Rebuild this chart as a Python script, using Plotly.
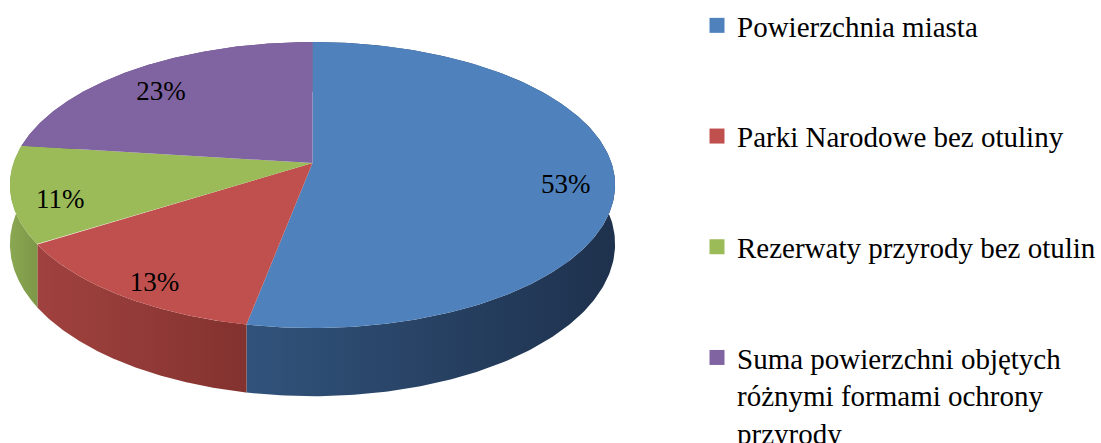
import numpy as np
import plotly.graph_objects as go

# -- Data --
categories = [
    "Powierzchnia miasta",
    "Parki Narodowe bez otuliny",
    "Rezerwaty przyrody bez otulin",
    "Suma powierzchni objętych<br>różnymi formami ochrony<br>przyrody",
]
shares = [53, 13, 11, 23]

# -- Style --
TOP_COLORS = ["#4F81BD", "#C0504D", "#9BBB59", "#8064A2"]
SIDE_COLORS = [
    ("#31537b", "#1e314d"),
    ("#a0423f", "#83322f"),
    ("#8aa752", "#7d9848"),
    ("#6b5189", "#5a4474"),
]
FONT = "Liberation Serif, Times New Roman, serif"

W, H = 1101, 443

# 3D pie projection (screen pixels, y grows downward)
CX, CY = 312.5, 163.0     # pie centre on the top face
A, B = 299.0, 139.6       # horizontal / vertical radius of the top face
PERSP = 0.154             # far side shrinks, near side grows
DEPTH = 57.7              # thickness of the pie
LABEL_R = 0.84            # labels sit at this radius ...
LABEL_Z = 0.2             # ... and slightly into the slab


def project(theta_deg, r=1.0, z=0.0):
    # theta clockwise from 12 o'clock, z=0 top face, z=1 bottom face
    t = np.radians(theta_deg)
    X = r * np.sin(t)
    Y = r * np.cos(t)
    k = 1.0 / (1.0 + PERSP * Y)
    return CX + A * X * k, CY - B * Y * k + z * DEPTH * k


total = float(sum(shares))
bounds = np.concatenate([[0.0], np.cumsum(shares) / total * 360.0])

fig = go.Figure()

# -- Layer 1: pie sides (drawn first, the top face covers the hidden part) --
for i, (t0, t1) in enumerate(zip(bounds[:-1], bounds[1:])):
    th = np.linspace(t0, t1, 240)
    xt, yt = project(th, z=0.0)
    xb, yb = project(th[::-1], z=1.0)
    light, dark = SIDE_COLORS[i]
    fig.add_trace(go.Scatter(
        x=np.concatenate([xt, xb]),
        y=np.concatenate([yt, yb]),
        mode="lines",
        fill="toself",
        fillgradient=dict(type="horizontal",
                          colorscale=[[0, light], [1, dark]]),
        line=dict(width=0, color="rgba(0,0,0,0)"),
        hoverinfo="skip",
        showlegend=False,
    ))

# -- Layer 2: top faces --
for i, (t0, t1) in enumerate(zip(bounds[:-1], bounds[1:])):
    th = np.linspace(t0, t1, 240)
    xs, ys = project(th)
    fig.add_trace(go.Scatter(
        x=np.concatenate([[CX], xs, [CX]]),
        y=np.concatenate([[CY], ys, [CY]]),
        mode="lines",
        fill="toself",
        fillcolor=TOP_COLORS[i],
        line=dict(width=0, color=TOP_COLORS[i]),
        name=categories[i],
        hoverinfo="skip",
        showlegend=False,
    ))

# -- Layer 3: percentage labels --
mids = (bounds[:-1] + bounds[1:]) / 2.0
lx, ly = project(mids, r=LABEL_R, z=LABEL_Z)
fig.add_trace(go.Scatter(
    x=lx, y=ly,
    mode="text",
    text=[f"{round(v / total * 100)}%" for v in shares],
    textposition="middle center",
    textfont=dict(family=FONT, size=27, color="black"),
    hoverinfo="skip",
    showlegend=False,
))

# -- Legend entries --
for i, name in enumerate(categories):
    fig.add_trace(go.Scatter(
        x=[None], y=[None],
        mode="markers",
        marker=dict(symbol="square", size=15, color=TOP_COLORS[i]),
        name=name,
        legendgroup=f"g{i}",
    ))

fig.update_layout(
    width=W, height=H,
    margin=dict(l=0, r=0, t=0, b=0, autoexpand=False),
    paper_bgcolor="white",
    plot_bgcolor="white",
    showlegend=True,
    legend=dict(
        x=697 / W, xanchor="left",
        y=1.0, yanchor="top",
        font=dict(family=FONT, size=29, color="black"),
        tracegroupgap=70,
        itemwidth=30,
        valign="top",
        bgcolor="rgba(0,0,0,0)",
        maxheight=2000,
    ),
)
fig.update_xaxes(range=[0, W], visible=False, fixedrange=True)
fig.update_yaxes(range=[H, 0], visible=False, fixedrange=True)

# drop the browser's default 8px body margin so the figure fills the window
fig.write_html(
    "out.html",
    config={"displayModeBar": False},
    post_script="document.body.style.margin = '0';",
)
